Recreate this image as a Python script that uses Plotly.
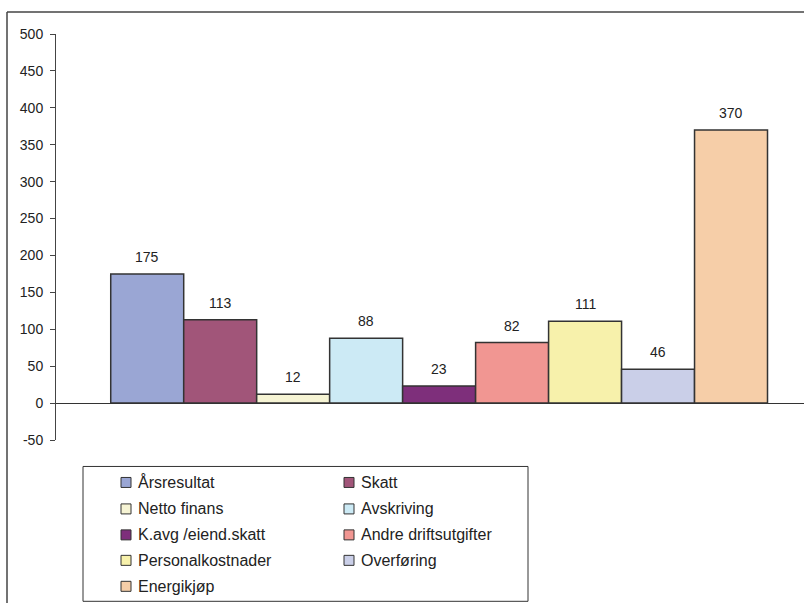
import plotly.graph_objects as go

# Cost/result components (one bar each)
series_names = [
    "Årsresultat", "Skatt", "Netto finans", "Avskriving", "K.avg /eiend.skatt",
    "Andre driftsutgifter", "Personalkostnader", "Overføring", "Energikjøp",
]
series_values = [175, 113, 12, 88, 23, 82, 111, 46, 370]
series_colors = [
    "#9AA6D4", "#A15579", "#F6F4D4", "#CCEAF5", "#7E2F7B",
    "#F19692", "#F7F1AB", "#CACFE8", "#F6CEA8",
]
y_ticks = [-50, 0, 50, 100, 150, 200, 250, 300, 350, 400, 450, 500]
y_tick_labels = ["-50", "0", "50", "100", "150", "200", "250", "300", "350", "400", "450", "500"]

FONT = "Liberation Sans, Arial, sans-serif"
TEXT = "#222222"
EDGE = "#333333"

W, H = 804, 603
PLOT_L, PLOT_R, PLOT_T, PLOT_B = 56, 804, 34, 440.5


def px_x(p):
    return (p - PLOT_L) / (PLOT_R - PLOT_L)


def px_y(p):
    return (PLOT_B - p) / (PLOT_B - PLOT_T)


fig = go.Figure()
for i, (name, val, col) in enumerate(zip(series_names, series_values, series_colors)):
    fig.add_trace(go.Bar(
        x=[i], y=[val], name=name, width=1,
        marker=dict(color=col, line=dict(color=EDGE, width=1.5)),
        hoverinfo="name+y", showlegend=False,
    ))
    fig.add_annotation(
        x=i, y=val, xref="x", yref="y", text=str(val), showarrow=False,
        yanchor="bottom", yshift=7, font=dict(family=FONT, size=14, color=TEXT),
    )

shapes = [
    # outer frame (left and top edges)
    dict(type="line", xref="paper", yref="paper", x0=px_x(7), x1=px_x(7),
         y0=px_y(12), y1=px_y(640), line=dict(color="#444444", width=1.5)),
    dict(type="line", xref="paper", yref="paper", x0=px_x(7), x1=px_x(820),
         y0=px_y(12), y1=px_y(12), line=dict(color="#444444", width=1.5)),
    # legend box
    dict(type="rect", xref="paper", yref="paper", x0=px_x(83), x1=px_x(528),
         y0=px_y(467), y1=px_y(602), line=dict(color=EDGE, width=1), fillcolor="white"),
]

row_y = [483, 509.5, 535.5, 561, 587]
col_sq = [126, 349]
col_txt = [136, 359]
for i, (name, col) in enumerate(zip(series_names, series_colors)):
    r, c = divmod(i, 2)
    cy = row_y[r]
    shapes.append(dict(
        type="rect", xref="paper", yref="paper",
        x0=px_x(col_sq[c] - 5), x1=px_x(col_sq[c] + 5),
        y0=px_y(cy + 5), y1=px_y(cy - 5),
        line=dict(color=EDGE, width=1), fillcolor=col,
    ))
    fig.add_annotation(
        x=px_x(col_txt[c]), y=px_y(cy), xref="paper", yref="paper", text=name,
        showarrow=False, xanchor="left", yanchor="middle",
        font=dict(family=FONT, size=16, color=TEXT),
    )

fig.update_layout(
    width=W, height=H,
    margin=dict(l=PLOT_L, r=W - PLOT_R, t=PLOT_T, b=H - PLOT_B, pad=0),
    paper_bgcolor="white", plot_bgcolor="white",
    barmode="overlay", showlegend=False,
    shapes=shapes,
    font=dict(family=FONT, color=TEXT),
    xaxis=dict(range=[-1.25, 9.0], showgrid=False, zeroline=False,
               showticklabels=False, showline=False, ticks=""),
    yaxis=dict(range=[-50, 500], tickvals=y_ticks, ticktext=y_tick_labels,
               showgrid=False,
               showline=True, linecolor="#444444", linewidth=1,
               ticks="outside", ticklen=5, tickcolor="#444444",
               ticklabelstandoff=4,
               zeroline=True, zerolinecolor=EDGE, zerolinewidth=1,
               tickfont=dict(family=FONT, size=14, color=TEXT)),
)

fig.write_html("out.html")
